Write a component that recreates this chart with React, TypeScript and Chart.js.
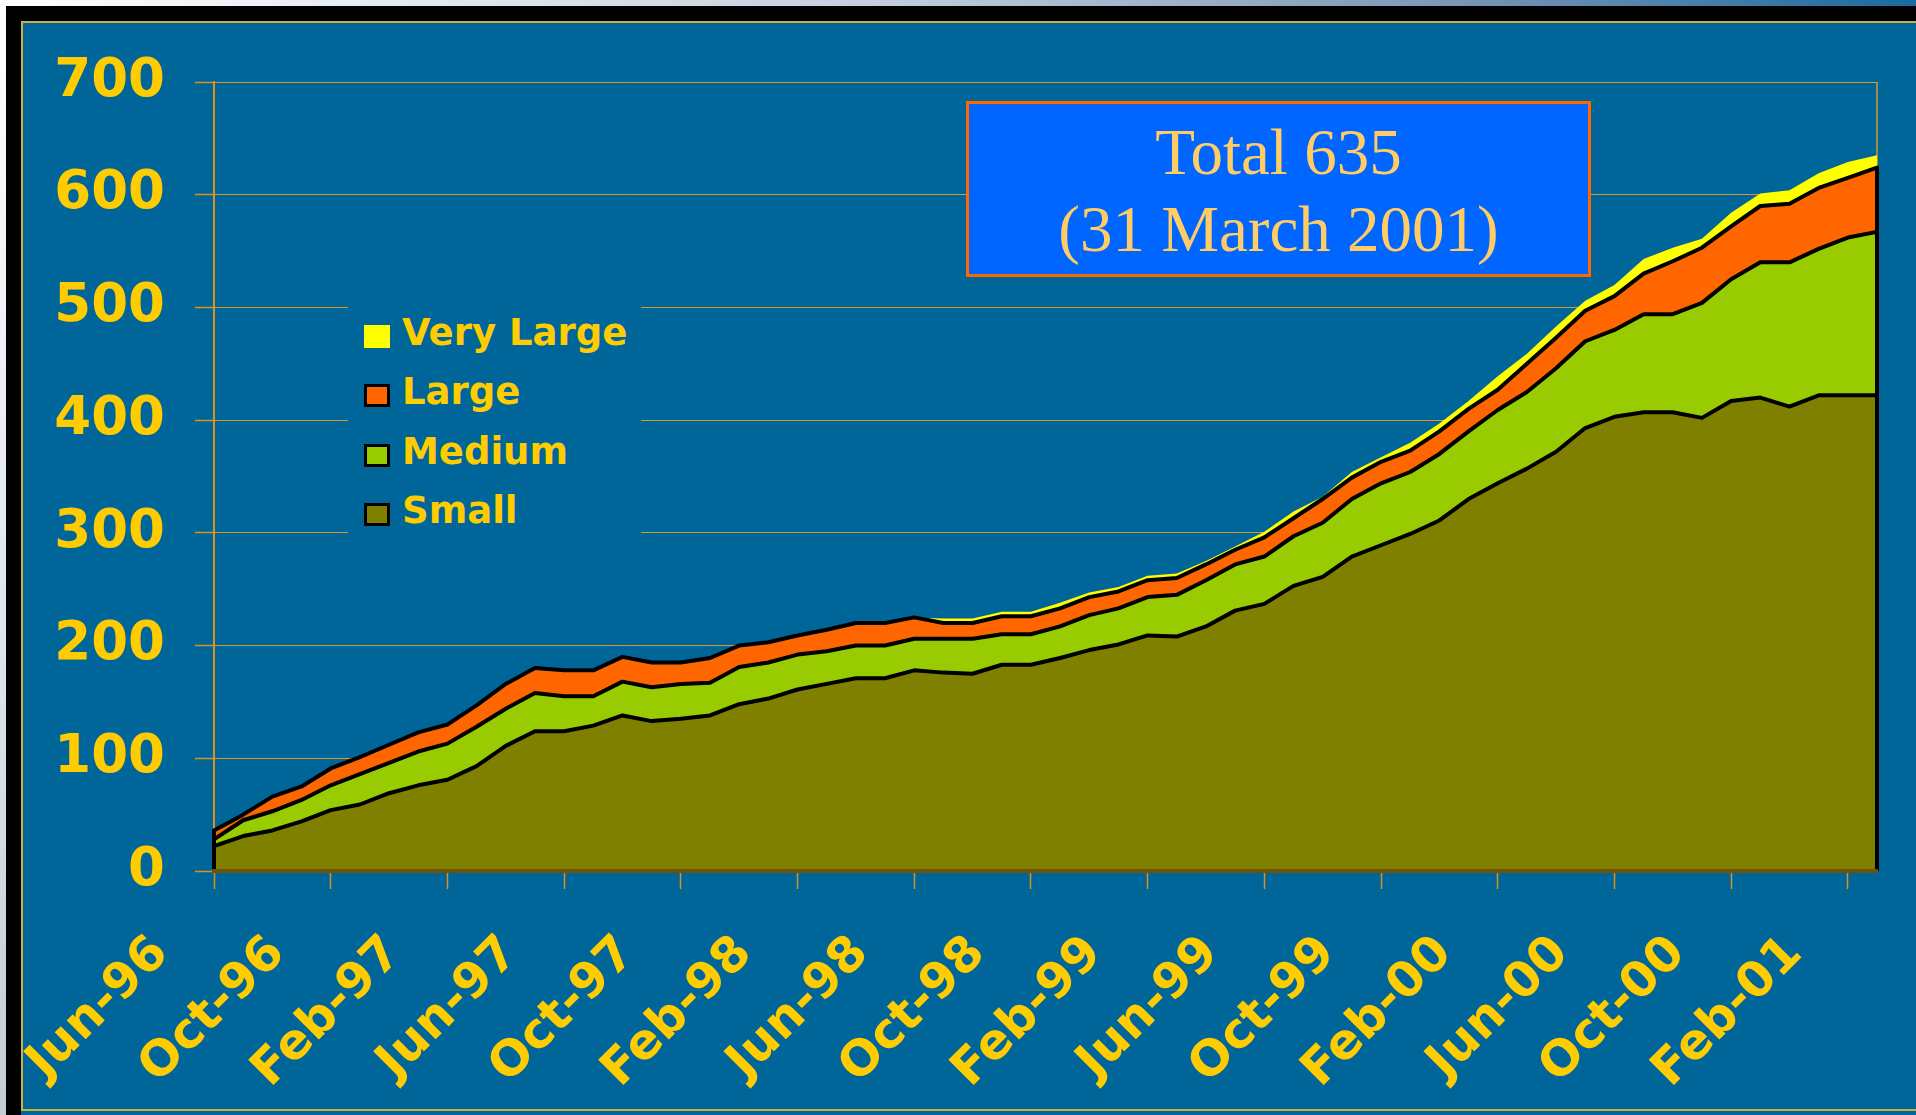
import React, { useEffect, useRef } from 'react';
import { Chart, registerables } from 'chart.js';

Chart.register(...registerables);

const months = [
  'Jun-96', 'Jul-96', 'Aug-96', 'Sep-96', 'Oct-96', 'Nov-96', 'Dec-96',
  'Jan-97', 'Feb-97', 'Mar-97', 'Apr-97', 'May-97', 'Jun-97', 'Jul-97', 'Aug-97', 'Sep-97', 'Oct-97', 'Nov-97', 'Dec-97',
  'Jan-98', 'Feb-98', 'Mar-98', 'Apr-98', 'May-98', 'Jun-98', 'Jul-98', 'Aug-98', 'Sep-98', 'Oct-98', 'Nov-98', 'Dec-98',
  'Jan-99', 'Feb-99', 'Mar-99', 'Apr-99', 'May-99', 'Jun-99', 'Jul-99', 'Aug-99', 'Sep-99', 'Oct-99', 'Nov-99', 'Dec-99',
  'Jan-00', 'Feb-00', 'Mar-00', 'Apr-00', 'May-00', 'Jun-00', 'Jul-00', 'Aug-00', 'Sep-00', 'Oct-00', 'Nov-00', 'Dec-00',
  'Jan-01', 'Feb-01', 'Mar-01',
];

const small = [
  22, 31, 36, 44, 54, 59, 69, 76, 81, 93, 111, 124, 124, 129, 138, 133, 135, 138, 148, 153,
  161, 166, 171, 171, 178, 176, 175, 183, 183, 189, 196, 201, 209, 208, 217, 231, 237, 253, 261, 279,
  289, 299, 311, 330, 344, 357, 372, 393, 403, 407, 407, 402, 417, 420, 412, 422, 422, 422,
];
const medium = [
  6, 14, 17, 19, 22, 27, 27, 30, 32, 35, 33, 34, 31, 26, 30, 30, 31, 29, 33, 32,
  31, 29, 29, 29, 28, 30, 31, 27, 27, 28, 31, 32, 34, 37, 41, 41, 42, 44, 48, 51,
  55, 55, 59, 60, 65, 68, 74, 77, 77, 87, 87, 102, 108, 120, 128, 130, 140, 145,
];
const large = [
  8, 5, 13, 12, 15, 15, 16, 17, 17, 19, 22, 22, 23, 23, 22, 22, 19, 22, 19, 18,
  17, 19, 20, 20, 19, 14, 14, 16, 16, 16, 16, 15, 15, 15, 14, 13, 17, 16, 21, 19,
  19, 19, 20, 20, 18, 25, 27, 27, 30, 36, 47, 49, 47, 50, 52, 54, 53, 57,
];
const veryLarge = [
  0, 0, 0, 0, 0, 0, 0, 0, 0, 0, 0, 0, 0, 0, 0, 0, 0, 0, 0, 0,
  0, 0, 0, 0, 0, 4, 4, 4, 4, 5, 4, 4, 4, 4, 3, 3, 5, 6, 2, 5,
  4, 7, 7, 7, 12, 9, 10, 9, 10, 13, 12, 8, 12, 11, 12, 13, 14, 11,
];

const yMin = 0;
const yMax = 700;
const yStep = 100;
const labelEvery = 4;

const seriesLabels = ['Small', 'Medium', 'Large', 'Very Large'];
const seriesColors = ['#808000', '#99CC00', '#FF6600', '#FFFF00'];
const seriesBordered = [true, true, true, false];

const totalTitle = 'Total 635';
const totalDate = '(31 March 2001)';

const GOLD = '#FFCC00';
const GRID = '#D49A30';
const AXIS = '#E0901A';
const BLUE = '#006699';
const FONT = '"DejaVu Sans", Verdana, sans-serif';

export default function App() {
  const ref = useRef<HTMLCanvasElement>(null);

  useEffect(() => {
    const canvas = ref.current;
    if (!canvas) return;
    const seriesData = [small, medium, large, veryLarge];

    const framePlugin = {
      id: 'frameAndLabels',
      beforeDatasetsDraw(chart: any) {
        const { ctx, chartArea } = chart;
        ctx.save();
        ctx.strokeStyle = GRID;
        ctx.lineWidth = 1.5;
        ctx.beginPath();
        ctx.moveTo(chartArea.right, chartArea.top);
        ctx.lineTo(chartArea.right, chartArea.bottom);
        ctx.stroke();
        ctx.restore();
      },
      afterDatasetsDraw(chart: any) {
        const { ctx } = chart;
        const xs = chart.scales.x;
        const ys = chart.scales.y;
        ctx.save();
        ctx.strokeStyle = '#000000';
        ctx.lineWidth = 4;
        [0, months.length - 1].forEach((i) => {
          const top = small[i] + medium[i] + large[i];
          const px = xs.getPixelForValue(i);
          ctx.beginPath();
          ctx.moveTo(px, ys.getPixelForValue(top));
          ctx.lineTo(px, ys.getPixelForValue(0));
          ctx.stroke();
        });
        ctx.restore();
      },
      afterDraw(chart: any) {
        const { ctx } = chart;
        const xs = chart.scales.x;
        ctx.save();
        ctx.fillStyle = GOLD;
        ctx.font = `bold 49px ${FONT}`;
        ctx.textAlign = 'right';
        ctx.textBaseline = 'alphabetic';
        months.forEach((m, i) => {
          if (i % labelEvery !== 0) return;
          const px = xs.getPixelForValue(i);
          ctx.save();
          ctx.translate(px - 44, xs.top + 84);
          ctx.rotate(-Math.PI / 4);
          ctx.fillText(m, 0, 0);
          ctx.restore();
        });
        ctx.restore();
      },
    };

    const chart = new Chart(canvas, {
      type: 'line',
      data: {
        labels: months,
        datasets: seriesData.map((d, k) => ({
          label: seriesLabels[k],
          data: d,
          backgroundColor: seriesColors[k],
          borderColor: seriesBordered[k] ? '#000000' : 'rgba(0,0,0,0)',
          borderWidth: 4,
          fill: k === 0 ? 'origin' : '-1',
          pointRadius: 0,
          pointHoverRadius: 0,
          tension: 0,
          borderJoinStyle: 'round' as const,
          borderCapStyle: 'round' as const,
        })),
      },
      options: {
        responsive: false,
        animation: false,
        devicePixelRatio: 1,
        events: [],
        layout: { padding: { top: 82, right: 39, bottom: 0, left: 0 } },
        plugins: { legend: { display: false }, tooltip: { enabled: false } },
        scales: {
          x: {
            type: 'category',
            offset: false,
            ticks: { display: false, autoSkip: false },
            grid: {
              drawOnChartArea: false,
              tickLength: 18,
              tickWidth: 1.5,
              tickColor: (c: any) => (c.index % labelEvery === 0 ? AXIS : 'rgba(0,0,0,0)'),
            },
            border: { color: '#6E5408', width: 4, z: 1 },
            afterFit: (s: any) => {
              s.height = 244;
            },
          },
          y: {
            stacked: true,
            min: yMin,
            max: yMax,
            ticks: {
              stepSize: yStep,
              color: GOLD,
              padding: 30,
              font: { family: FONT, size: 53, weight: 'bold' },
            },
            grid: {
              color: (c: any) => (c.index === 0 ? AXIS : GRID),
              lineWidth: 1,
              tickLength: 19,
              tickColor: AXIS,
              tickWidth: 1.5,
            },
            border: { color: AXIS, width: 2 },
            afterFit: (s: any) => {
              s.width = 214;
            },
          },
        },
      },
      plugins: [framePlugin],
    } as any);

    return () => chart.destroy();
  }, []);

  const legendOrder = [3, 2, 1, 0];

  return (
    <div style={{ position: 'fixed', left: 0, top: 0, width: 1916, height: 1115, overflow: 'hidden', background: BLUE }}>
      <div style={{ position: 'absolute', left: 0, top: 0, width: 1916, height: 6, background: 'linear-gradient(to right, #ffffff 0%, #c4d0de 45%, #7e98b6 75%, #1a6aa0 100%)' }} />
      <div style={{ position: 'absolute', left: 0, top: 0, width: 6, height: 1115, background: 'linear-gradient(to bottom, #ffffff 0%, #dde3ec 60%, #c4ccd8 100%)' }} />
      <div style={{ position: 'absolute', left: 6, top: 6, width: 1910, height: 15, background: '#000' }} />
      <div style={{ position: 'absolute', left: 6, top: 6, width: 15, height: 1109, background: '#000' }} />
      <div
        style={{
          position: 'absolute', left: 21, top: 21, width: 1900, height: 1090, boxSizing: 'border-box',
          background: BLUE, borderTop: '2px solid #C8B43C', borderLeft: '2px solid #C8B43C', borderBottom: '2px solid #C8B43C',
        }}
      />
      <canvas ref={ref} width={1916} height={1115} style={{ position: 'absolute', left: 0, top: 0, width: 1916, height: 1115 }} />

      <div style={{ position: 'absolute', left: 348, top: 300, width: 293, height: 240, background: BLUE }} />
      {legendOrder.map((k, r) => (
        <div key={k} style={{ position: 'absolute', left: 364, top: 303 + r * 59.3, height: 59, width: 280 }}>
          <div
            style={{
              position: 'absolute', left: 0, top: 22, width: 26, height: 23, boxSizing: 'border-box',
              background: seriesColors[k], border: seriesBordered[k] ? '3px solid #000' : 'none',
            }}
          />
          <div style={{ position: 'absolute', left: 38, top: 8, lineHeight: '59px', font: `bold 37px ${FONT}`, color: GOLD, whiteSpace: 'nowrap' }}>
            {seriesLabels[k]}
          </div>
        </div>
      ))}

      <div
        style={{
          position: 'absolute', left: 966, top: 101, width: 625, height: 176, boxSizing: 'border-box',
          background: '#0066FF', border: '3px solid #FF6600', color: '#FFCC66',
          fontFamily: '"Liberation Serif", "Times New Roman", serif', fontSize: 65, lineHeight: '77px',
          textAlign: 'center', paddingTop: 10,
        }}
      >
        <div>{totalTitle}</div>
        <div>{totalDate}</div>
      </div>
    </div>
  );
}
